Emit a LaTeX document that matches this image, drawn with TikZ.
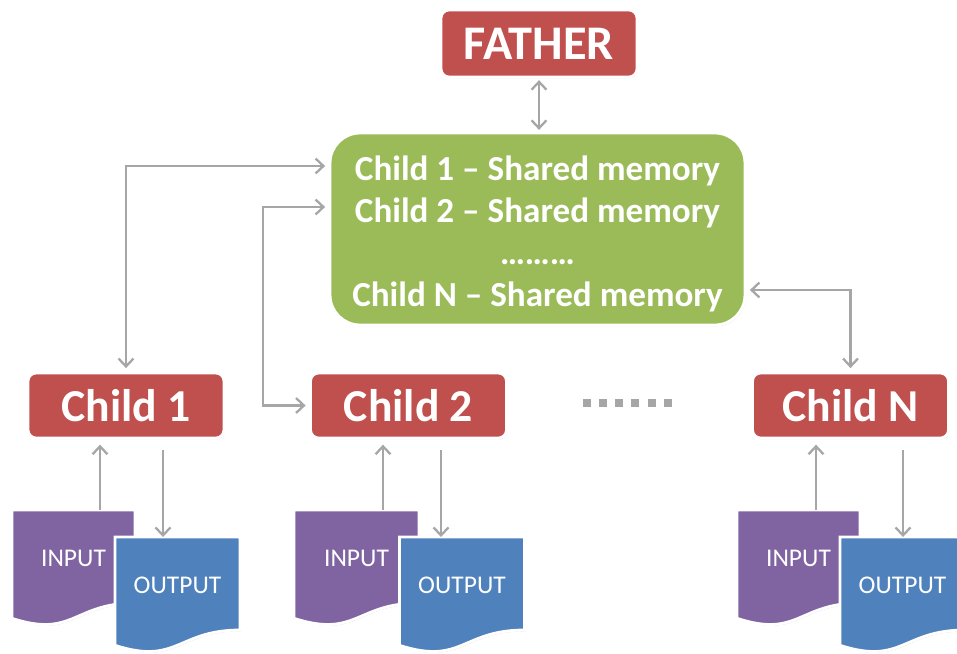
\documentclass[tikz,border=0pt]{standalone}
\usepackage{fontspec}
\setmainfont{Carlito}
\usetikzlibrary{arrows.meta, calc, backgrounds, shadows}

\definecolor{boxred}{HTML}{C0504D}
\definecolor{memgreen}{HTML}{9BBB59}
\definecolor{inpurple}{HTML}{8064A2}
\definecolor{outblue}{HTML}{4F81BD}
\definecolor{arrowgray}{HTML}{A6A6A6}

% document shape drawn round a named node
\newcommand{\docshape}[2]{%
  \filldraw[docline, fill=#2] (#1.north west) -- (#1.north east)
    -- ($(#1.north east)!0.802!(#1.south east)$)
    .. controls ($(#1.north)!0.802!(#1.south)$) and ($(#1.north)!1.107!(#1.south)$)
    .. ($(#1.north west)!0.934!(#1.south west)$) -- cycle;}

\begin{document}
\begin{tikzpicture}[x=0.02cm, y=-0.02cm,
    boxshadow/.style={drop shadow={shadow xshift=0.5pt, shadow yshift=-0.7pt, opacity=0.3, fill=black!60}},
    redbox/.style={rectangle, rounded corners=0.16cm, fill=boxred, draw=white, line width=1.6pt,
        boxshadow, text=white, font=\bfseries\fontsize{26}{30}\selectfont,
        minimum width=3.92cm, minimum height=1.3cm, inner sep=0pt},
    membox/.style={rectangle, rounded corners=0.6cm, fill=memgreen, draw=white, line width=1.6pt,
        boxshadow, text=white, align=center, font=\bfseries\fontsize{20}{24}\selectfont,
        minimum width=8.3cm, minimum height=3.84cm, inner sep=0pt},
    doc/.style={rectangle, inner sep=0pt, outer sep=0pt, minimum height=2.32cm, text=white,
        font=\fontsize{14.5}{17}\selectfont, text depth=11pt},
    docline/.style={draw=white, line width=1.6pt, boxshadow},
    flow/.style={draw=arrowgray, line width=1.3pt, >={Straight Barb[length=4.5pt, width=8.5pt]}}]

    \useasboundingbox (0,0) rectangle (957,653);

    % father and shared memory
    \node[redbox, minimum height=1.34cm, font=\bfseries\fontsize{27.5}{30}\selectfont] (father) at (539,43.5) {FATHER};
    \node[membox] (mem) at (537.5,229) {\rule{0pt}{19.5pt}Child 1 \textendash{} Shared memory\\
        Child 2 \textendash{} Shared memory\\ ………\\ Child N \textendash{} Shared memory};

    % children
    \node[redbox] (c1) at (126,405.5) {Child 1};
    \node[redbox] (c2) at (408.5,405.5) {Child 2};
    \node[redbox] (cN) at (850.5,405.5) {Child N};

    \draw[arrowgray, line width=4.5pt, dash pattern=on 4.5pt off 4.7pt] (583,403) -- (673,403);

    % input / output files
    \node[doc, minimum width=2.46cm] (in1) at (73.5,568) {INPUT};
    \node[doc, minimum width=2.5cm] (out1) at (177.5,595) {OUTPUT};
    \node[doc, minimum width=2.5cm] (in2) at (356.5,568) {INPUT};
    \node[doc, minimum width=2.5cm] (out2) at (462,595) {OUTPUT};
    \node[doc, minimum width=2.46cm] (inN) at (798.5,568) {INPUT};
    \node[doc, minimum width=2.5cm] (outN) at (902.5,595) {OUTPUT};

    \begin{scope}[on background layer]
        \docshape{in1}{inpurple}
        \docshape{out1}{outblue}
        \docshape{in2}{inpurple}
        \docshape{out2}{outblue}
        \docshape{inN}{inpurple}
        \docshape{outN}{outblue}
    \end{scope}

    % links to the shared memory
    \draw[flow, <->, shorten <=1pt, shorten >=1pt] (father.south) -- (father.south |- mem.north);
    \draw[flow, <->, shorten <=2pt, shorten >=2pt] (c1.north) |- ($(mem.west)+(0,-63)$);
    \draw[flow, <->, shorten <=2pt, shorten >=2pt] ($(mem.west)+(0,-22)$) -| ($(c2.west)+(-46,0)$) -- (c2.west);
    \draw[flow, <->, shorten <=2pt, shorten >=2pt] ($(mem.east)+(0,61)$) -| (cN.north);

    % reading and writing
    \coordinate (i1) at ($(in1.north)+(26.5,0)$);
    \coordinate (o1) at ($(out1.north)+(-14.5,0)$);
    \coordinate (i2) at ($(in2.north)+(26.5,0)$);
    \coordinate (o2) at ($(out2.north)+(-21,0)$);
    \coordinate (iN) at ($(inN.north)+(17.5,0)$);
    \coordinate (oN) at ($(outN.north)+(0.5,0)$);
    \draw[flow, ->, shorten >=3pt] (i1) -- (i1 |- c1.south);
    \draw[flow, ->, shorten <=6pt] (o1 |- c1.south) -- (o1);
    \draw[flow, ->, shorten >=3pt] (i2) -- (i2 |- c2.south);
    \draw[flow, ->, shorten <=6pt] (o2 |- c2.south) -- (o2);
    \draw[flow, ->, shorten >=3pt] (iN) -- (iN |- cN.south);
    \draw[flow, ->, shorten <=6pt] (oN |- cN.south) -- (oN);
\end{tikzpicture}
\end{document}
